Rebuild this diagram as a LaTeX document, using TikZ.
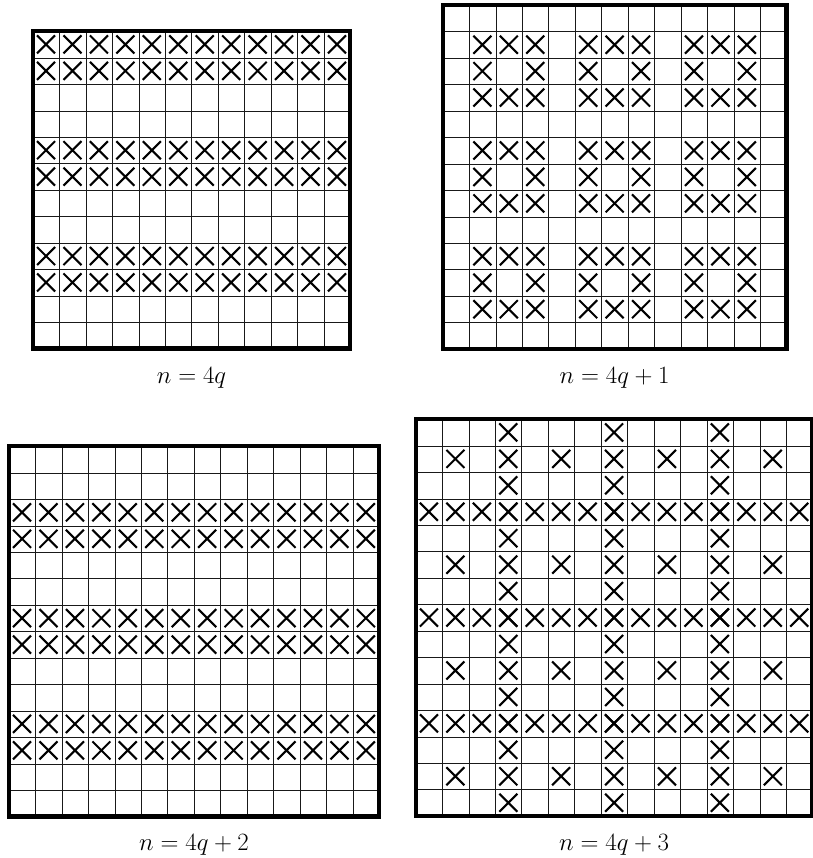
\documentclass[tikz,border=0pt]{standalone}
\usetikzlibrary{calc}
\tikzset{
  gl/.style={line width=1.25pt, draw=black!90},
  border/.style={line width=4.4pt, draw=black, line join=miter},
  xm/.style={line width=2.1pt, draw=black},
  lbl/.style={font=\fontsize{23}{26}\selectfont, inner sep=0pt, anchor=base}
}
\def\cs{26.45}
\newcommand\mygridlines[3]{%
  \pgfmathsetmacro\L{#3*\cs}%
  \pgfmathtruncatemacro\m{#3-1}%
  \foreach \k in {1,...,\m}{
    \pgfmathsetmacro\px{round(#1+\k*\cs)+0.5}
    \pgfmathsetmacro\py{round(#2+\k*\cs)+0.5}
    \draw[gl] (\px,#2) -- (\px,{#2+\L});
    \draw[gl] (#1,\py) -- ({#1+\L},\py);
  }}
\newcommand\myborder[1]{%
  \pgfmathsetmacro\L{#1*\cs}%
  \draw[border] (0,0) rectangle (\L,\L);}
\newcommand\xx[2]{%
  \draw[xm] ({(#1-0.5)*\cs-9},{(#2-0.5)*\cs-9}) -- ++(18,18)
            ({(#1-0.5)*\cs-9},{(#2-0.5)*\cs+9}) -- ++(18,-18);}
\begin{document}
\begin{tikzpicture}[x=1pt,y=-1pt]
\useasboundingbox (0,0) rectangle (812,858);
\fill[white] (0,0) rectangle (812,858);

% grid 1: n = 4q
\mygridlines{32.8}{31.2}{12}
\begin{scope}[shift={(32.8,31.2)}]
  \foreach \r in {1,2,5,6,9,10}{\foreach \c in {1,...,12}{\xx{\c}{\r}}}
  \myborder{12}
\end{scope}

% grid 2: n = 4q+1
\mygridlines{442.7}{5}{13}
\begin{scope}[shift={(442.7,5)}]
  \foreach \R in {2,6,10}{\foreach \C in {2,6,10}{
    \foreach \a/\b in {0/0,1/0,2/0,0/1,2/1,0/2,1/2,2/2}{
      \pgfmathtruncatemacro\cc{\C+\a}\pgfmathtruncatemacro\rr{\R+\b}
      \xx{\cc}{\rr}}}}
  \myborder{13}
\end{scope}

% grid 3: n = 4q+2
\mygridlines{8.8}{446.2}{14}
\begin{scope}[shift={(8.8,446.2)}]
  \foreach \r in {3,4,7,8,11,12}{\foreach \c in {1,...,14}{\xx{\c}{\r}}}
  \myborder{14}
\end{scope}

% grid 4: n = 4q+3
\mygridlines{415.7}{419.2}{15}
\begin{scope}[shift={(415.7,419.2)}]
  \foreach \r in {4,8,12}{\foreach \c in {1,...,15}{\xx{\c}{\r}}}
  \foreach \c in {4,8,12}{\foreach \r in {1,...,15}{\xx{\c}{\r}}}
  \foreach \r in {2,6,10,14}{\foreach \c in {2,6,10,14}{\xx{\c}{\r}}}
  \myborder{15}
\end{scope}

\node[lbl] (l1) at (191.5,383) {$n = 4q$};
\node[lbl] (l2) at (614.6,383) {$n = 4q + 1$};
\node[lbl] (l3) at (194,850) {$n = 4q + 2$};
\node[lbl] (l4) at (614.1,850) {$n = 4q + 3$};
\end{tikzpicture}
\end{document}
